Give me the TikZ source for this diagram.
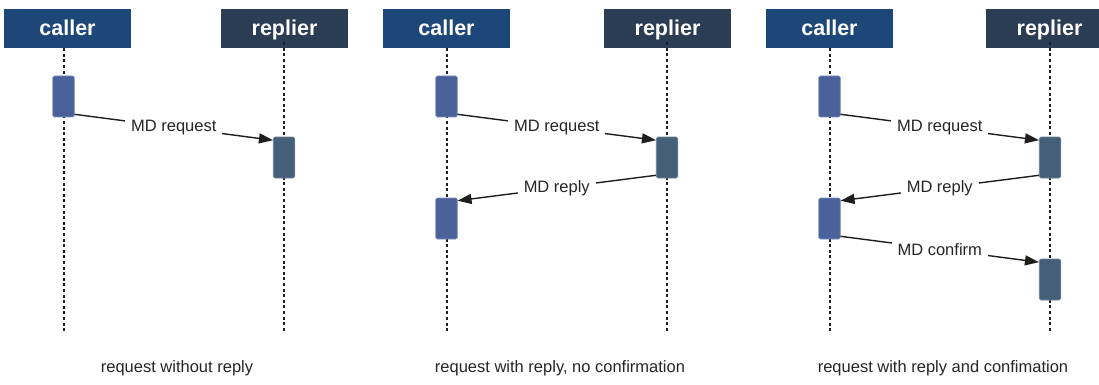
\documentclass[tikz,border=0pt]{standalone}
\usepackage{fontspec}
\setmainfont{Liberation Sans}
\usetikzlibrary{arrows.meta}
\definecolor{callerhd}{HTML}{1D4778}
\definecolor{replierhd}{HTML}{2B3D52}
\definecolor{cactc}{HTML}{4A6299}
\definecolor{cactb}{HTML}{7A8EBE}
\definecolor{ractc}{HTML}{465F79}
\definecolor{ractb}{HTML}{6E8299}
\definecolor{linec}{HTML}{1E1E1E}
\definecolor{textc}{HTML}{262626}
\begin{document}
\begin{tikzpicture}[x=1pt,y=-1pt,
  hdr/.style={minimum width=127pt, minimum height=39pt, inner sep=0pt, text=white,
    font=\fontsize{21.5}{24}\selectfont\bfseries, text height=15pt, text depth=0pt},
  chdr/.style={hdr, fill=callerhd},
  rhdr/.style={hdr, fill=replierhd},
  life/.style={line width=1.8pt, draw=linec, dash pattern=on 3pt off 2.6pt},
  actbox/.style={rounded corners=1.5pt, minimum width=21.5pt, minimum height=41pt, inner sep=0pt, line width=0.6pt},
  cact/.style={actbox, fill=cactc, draw=cactb},
  ract/.style={actbox, fill=ractc, draw=ractb},
  msg/.style={line width=1.4pt, draw=linec, -{Triangle[length=14pt,width=10pt]}},
  lbl/.style={fill=white, inner xsep=6pt, inner ysep=2pt, font=\fontsize{16.5}{19}\selectfont, text=textc},
  capt/.style={font=\fontsize{16.5}{19}\selectfont, text=textc}]
\useasboundingbox (0,0) rectangle (1099,385);
\clip (0,0) rectangle (1099,385);
\fill[white] (0,0) rectangle (1099,385);

% ---------- panel 1 ----------
\node[chdr] (c1h) at (67.5,28.5) {caller};
\node[rhdr] (r1h) at (284.5,28.5) {replier};
\coordinate (c1e) at (64,332);
\coordinate (r1e) at (284,332);
\draw[life] (c1h.south -| c1e) -- (c1e);
\draw[life] ([yshift=6pt]r1h.south -| r1e) -- (r1e);
\node[cact] (c1a) at (63.5,96.5) {};
\node[ract] (r1a) at (284,157.5) {};
\draw[msg] ([yshift=3pt]c1a.south east) -- node[lbl] (m1) {MD request} ([yshift=-3.5pt]r1a.north west);
\node[capt] (cap1) at (177,368) {request without reply};

% ---------- panel 2 ----------
\node[chdr] (c2h) at (446.5,28.5) {caller};
\node[rhdr] (r2h) at (667.5,28.5) {replier};
\coordinate (c2e) at (447,332);
\coordinate (r2e) at (667,332);
\draw[life] (c2h.south -| c2e) -- (c2e);
\draw[life] ([yshift=6pt]r2h.south -| r2e) -- (r2e);
\node[cact] (c2a) at (446.5,96.5) {};
\node[ract] (r2a) at (667,157.5) {};
\node[cact] (c2b) at (446.5,218.5) {};
\draw[msg] ([yshift=3pt]c2a.south east) -- node[lbl] (m2) {MD request} ([yshift=-3.5pt]r2a.north west);
\draw[msg] ([yshift=3pt]r2a.south west) -- node[lbl] (m3) {MD reply} ([yshift=-3pt]c2b.north east);
\node[capt] (cap2) at (560,368) {request with reply, no confirmation};

% ---------- panel 3 ----------
\node[chdr] (c3h) at (829.5,28.5) {caller};
\node[rhdr] (r3h) at (1049.5,28.5) {replier};
\coordinate (c3e) at (830,332);
\coordinate (r3e) at (1050,332);
\draw[life] (c3h.south -| c3e) -- (c3e);
\draw[life] ([yshift=6pt]r3h.south -| r3e) -- (r3e);
\node[cact] (c3a) at (829.5,96.5) {};
\node[ract] (r3a) at (1050,157.5) {};
\node[cact] (c3b) at (829.5,218.5) {};
\node[ract] (r3b) at (1050,279.5) {};
\draw[msg] ([yshift=3pt]c3a.south east) -- node[lbl] (m4) {MD request} ([yshift=-3.5pt]r3a.north west);
\draw[msg] ([yshift=3pt]r3a.south west) -- node[lbl] (m5) {MD reply} ([yshift=-3pt]c3b.north east);
\draw[msg] ([yshift=3pt]c3b.south east) -- node[lbl] (m6) {MD confirm} ([yshift=-3.5pt]r3b.north west);
\node[capt] (cap3) at (943,368) {request with reply and confimation};
\end{tikzpicture}
\end{document}
